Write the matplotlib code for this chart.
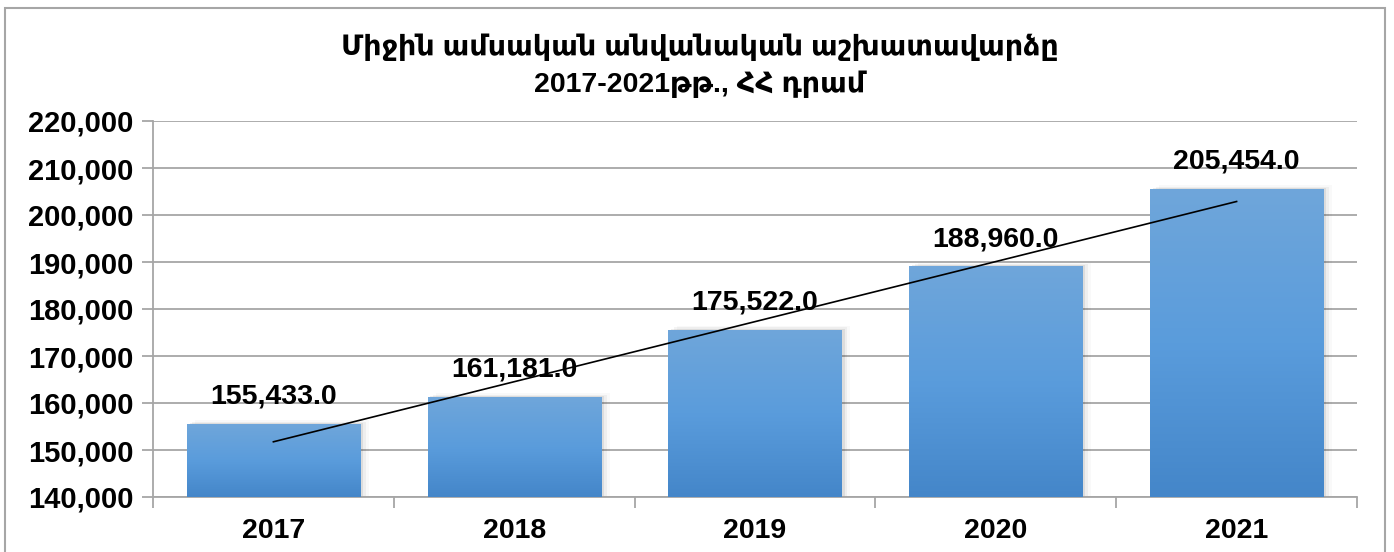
import numpy as np
import matplotlib
matplotlib.use("Agg")
import matplotlib.pyplot as plt
from matplotlib.patches import Rectangle
from matplotlib.colors import LinearSegmentedColormap

years = ["2017", "2018", "2019", "2020", "2021"]
values = [155433.0, 161181.0, 175522.0, 188960.0, 205454.0]
yticks = [140000, 150000, 160000, 170000, 180000, 190000, 200000, 210000, 220000]
title = "Միջին ամսական անվանական աշխատավարձը\n2017-2021թթ., ՀՀ դրամ"

plt.rcParams['font.family'] = ['Liberation Sans', 'DejaVu Sans']

W, H = 1394, 552
fig = plt.figure(figsize=(W / 100, H / 100), dpi=100)
ax = fig.add_axes([153 / W, 1 - 497 / H, (1357 - 153) / W, (497 - 121) / H])

# figure border
fig.patches.append(Rectangle((5 / W, -0.1), (1385 - 5) / W, 1.1 - 8 / H,
                             transform=fig.transFigure, fill=False,
                             edgecolor='#a6a6a6', linewidth=1.5, zorder=0))

x = np.arange(len(years))
width = 0.72
cmap = LinearSegmentedColormap.from_list('g', ['#4486c9', '#5a9cdc', '#6fa6da'])
grad = np.linspace(0, 1, 256).reshape(-1, 1)
ymin, ymax = yticks[0], yticks[-1]

for xi, v in zip(x, values):
    # soft shadow
    for k, a in enumerate([0.07, 0.045, 0.025]):
        ax.add_patch(Rectangle((xi - width / 2 + 0.012 * (k + 1), ymin), width, v - ymin + 300 * (k + 1),
                               facecolor='black', alpha=a, edgecolor='none', zorder=2))
    ax.imshow(grad, extent=(xi - width / 2, xi + width / 2, ymin, v), origin='lower',
              cmap=cmap, aspect='auto', zorder=3)
    ax.annotate(f"{v:,.1f}", (xi, v), xytext=(0, 20), textcoords='offset points',
                ha='center', va='center', fontsize=20.5, fontweight='bold', color='black', zorder=6)

# linear trend line
coef = np.polyfit(x, values, 1)
ax.plot([x[0], x[-1]], np.polyval(coef, [x[0], x[-1]]), color='black', linewidth=1.2, zorder=5)

ax.set_xlim(-0.5, len(years) - 0.5)
ax.set_ylim(ymin, ymax)
ax.set_yticks(yticks)
ax.set_yticklabels([f"{t:,}" for t in yticks], fontsize=21, fontweight='bold')
ax.set_xticks(x)
ax.set_xticklabels(years, fontsize=20.5, fontweight='bold')
ax.set_xticks(np.arange(-0.5, len(years)), minor=True)
ax.tick_params(axis='x', which='major', length=0, pad=15)
ax.tick_params(axis='x', which='minor', length=8, color='#a6a6a6', width=1.3)
ax.tick_params(axis='y', length=8, color='#a6a6a6', width=1.3, pad=6)
ax.grid(axis='y', color='#a6a6a6', linewidth=1.3, zorder=1)
ax.set_axisbelow(True)
for s in ['top', 'right']:
    ax.spines[s].set_visible(False)
for s in ['left', 'bottom']:
    ax.spines[s].set_color('#a6a6a6')
    ax.spines[s].set_linewidth(1.3)

fig.text(700 / W, 1 - 66 / H, title, ha='center', va='center', fontsize=20.5,
         fontweight='bold', linespacing=1.45)

fig.savefig("out.png", dpi=100)
